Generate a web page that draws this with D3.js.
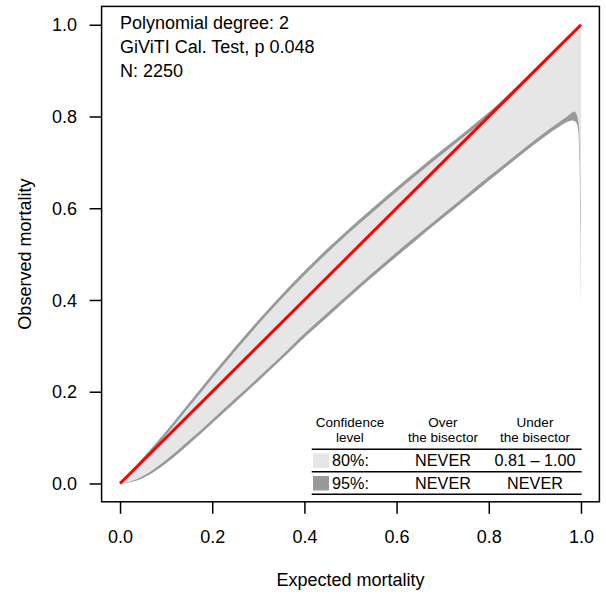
<!DOCTYPE html>
<html>
<head>
<meta charset="utf-8">
<script src="https://cdn.jsdelivr.net/npm/d3@7/dist/d3.min.js"></script>
<style>
  html, body { margin: 0; padding: 0; background: #ffffff; }
  svg { display: block; }
  text { font-family: "Liberation Sans", Arial, Helvetica, sans-serif; fill: #000; }
</style>
</head>
<body>
<svg id="chart" width="606" height="599"></svg>
<script>
// Calibration belt: expected mortality grid and belt bounds (observed mortality)
const expected = [0, 0.02, 0.05, 0.1, 0.15, 0.2, 0.25, 0.3, 0.35, 0.4, 0.45, 0.5, 0.55, 0.6, 0.65,
  0.7, 0.75, 0.8, 0.85, 0.9, 0.95, 0.97, 0.98, 0.985, 0.99, 0.994, 0.997, 0.999, 1.0];
const lower95 = [0, 0.002, 0.012, 0.044, 0.086, 0.131, 0.177, 0.223, 0.270, 0.318, 0.363, 0.408, 0.452,
  0.495, 0.537, 0.578, 0.619, 0.660, 0.700, 0.740, 0.776, 0.788, 0.791, 0.790, 0.786, 0.770, 0.700, 0.550, 0.380];
const lower80 = [0, 0.003, 0.016, 0.051, 0.094, 0.139, 0.185, 0.231, 0.278, 0.327, 0.372, 0.417, 0.461,
  0.504, 0.546, 0.587, 0.628, 0.669, 0.709, 0.749, 0.786, 0.800, 0.808, 0.811, 0.806, 0.790, 0.740, 0.620, 0.420];
const upper80 = [0, 0.020, 0.051, 0.106, 0.167, 0.229, 0.289, 0.347, 0.402, 0.454, 0.503, 0.549, 0.593,
  0.636, 0.678, 0.719, 0.759, 0.800, 0.846, 0.896, 0.946, 0.966, 0.976, 0.981, 0.986, 0.990, 0.994, 0.997, 1.0];
const upper95 = [0, 0.022, 0.056, 0.114, 0.176, 0.238, 0.298, 0.356, 0.411, 0.463, 0.512, 0.558, 0.602,
  0.645, 0.687, 0.728, 0.768, 0.809, 0.855, 0.904, 0.953, 0.973, 0.982, 0.987, 0.992, 0.995, 0.998, 0.999, 1.0];

// Axis ticks
const tickValues = [0, 0.2, 0.4, 0.6, 0.8, 1.0];
const tickLabels = ["0.0", "0.2", "0.4", "0.6", "0.8", "1.0"];

// Annotation and legend table
const infoLines = ["Polynomial degree: 2", "GiViTI Cal. Test, p 0.048", "N: 2250"];
const legendHeaders = [["Confidence", "level"], ["Over", "the bisector"], ["Under", "the bisector"]];
const confidenceLevels = ["80%:", "95%:"];
const overBisector = ["NEVER", "NEVER"];
const underBisector = ["0.81 \u2013 1.00", "NEVER"];
const levelColors = ["#e6e6e6", "#999999"];

const svg = d3.select("#chart");

const plot = { left: 101.6, right: 599.4, top: 6.4, bottom: 501.8 };
const x = d3.scaleLinear().domain([-0.04, 1.04]).range([plot.left, plot.right]);
const y = d3.scaleLinear().domain([-0.04, 1.04]).range([plot.bottom, plot.top]);

const belt = expected.map((e, i) => ({ e, lo95: lower95[i], lo80: lower80[i], hi80: upper80[i], hi95: upper95[i] }));

const area95 = d3.area().x(d => x(d.e)).y0(d => y(d.lo95)).y1(d => y(d.hi95)).curve(d3.curveMonotoneX);
const area80 = d3.area().x(d => x(d.e)).y0(d => y(d.lo80)).y1(d => y(d.hi80)).curve(d3.curveMonotoneX);

svg.append("path").datum(belt).attr("d", area95).attr("fill", levelColors[1]);
svg.append("path").datum(belt).attr("d", area80).attr("fill", levelColors[0]);

// Bisector
svg.append("line")
  .attr("x1", x(0)).attr("y1", y(0)).attr("x2", x(1)).attr("y2", y(1))
  .attr("stroke", "#ff0000").attr("stroke-width", 3).attr("stroke-linecap", "butt");

// Axes
const xAxis = d3.axisBottom(x).tickValues(tickValues).tickFormat((d, i) => tickLabels[i])
  .tickSize(12).tickSizeOuter(0);
const gx = svg.append("g").attr("transform", `translate(0,${plot.bottom})`).call(xAxis);
gx.select(".domain").remove();
gx.selectAll(".tick line").attr("stroke", "#000").attr("stroke-width", 1.5);
gx.selectAll(".tick text").attr("y", 41.5).attr("dy", null).attr("font-size", 18).attr("fill", "#000");

const yAxis = d3.axisLeft(y).tickValues(tickValues).tickFormat((d, i) => tickLabels[i])
  .tickSize(12).tickSizeOuter(0);
const gy = svg.append("g").attr("transform", `translate(${plot.left},0)`).call(yAxis);
gy.select(".domain").remove();
gy.selectAll(".tick line").attr("stroke", "#000").attr("stroke-width", 1.5);
gy.selectAll(".tick text").attr("x", -24.5).attr("dy", "0.34em").attr("font-size", 18).attr("fill", "#000");

// Plot frame
svg.append("rect")
  .attr("x", plot.left).attr("y", plot.top)
  .attr("width", plot.right - plot.left).attr("height", plot.bottom - plot.top)
  .attr("fill", "none").attr("stroke", "#000").attr("stroke-width", 1.5);

// Axis titles
svg.append("text").attr("x", (plot.left + plot.right) / 2).attr("y", 586)
  .attr("text-anchor", "middle").attr("font-size", 18).text("Expected mortality");
svg.append("text").attr("transform", `translate(31,${(plot.top + plot.bottom) / 2}) rotate(-90)`)
  .attr("text-anchor", "middle").attr("font-size", 18).text("Observed mortality");

// Info lines
svg.selectAll("text.info").data(infoLines).enter().append("text")
  .attr("class", "info").attr("x", 120).attr("y", (d, i) => 29.3 + i * 24)
  .attr("font-size", 18).text(d => d);

// Legend table
const colCenters = [350, 443, 535];
const legend = svg.append("g");
legendHeaders.forEach((pair, c) => {
  pair.forEach((t, r) => {
    legend.append("text").attr("x", colCenters[c]).attr("y", 427.3 + r * 15)
      .attr("text-anchor", "middle").attr("font-size", 13.5).text(t);
  });
});
[449.3, 471.7, 494.3].forEach(ly => {
  legend.append("line").attr("x1", 311.7).attr("x2", 581.7).attr("y1", ly).attr("y2", ly)
    .attr("stroke", "#000").attr("stroke-width", 1.5);
});
const rowBase = [466, 488.7];
const rowTop = [453.5, 476];
confidenceLevels.forEach((lvl, r) => {
  legend.append("rect").attr("x", 313).attr("y", rowTop[r]).attr("width", 16).attr("height", 14.5)
    .attr("fill", levelColors[r]);
  legend.append("text").attr("x", 332).attr("y", rowBase[r]).attr("font-size", 16.2).text(lvl);
  legend.append("text").attr("x", colCenters[1]).attr("y", rowBase[r]).attr("text-anchor", "middle")
    .attr("font-size", 16.2).text(overBisector[r]);
  legend.append("text").attr("x", colCenters[2]).attr("y", rowBase[r]).attr("text-anchor", "middle")
    .attr("font-size", 16.2).text(underBisector[r]);
});
</script>
</body>
</html>
